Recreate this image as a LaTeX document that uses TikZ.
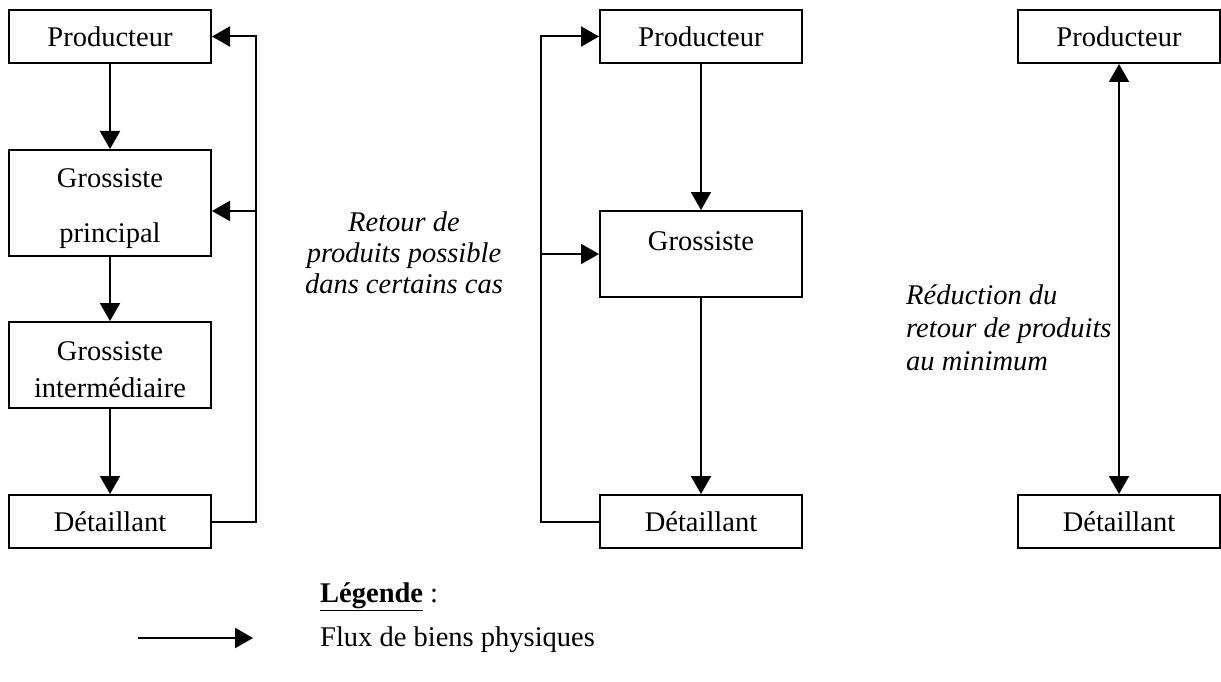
\documentclass[tikz,border=0pt]{standalone}
\usepackage{fontspec}
\setmainfont{Liberation Serif}
\usetikzlibrary{arrows.meta,positioning,calc}

\begin{document}
\begin{tikzpicture}[x=1pt, y=-1pt,
    every node/.style={font=\fontsize{28.5}{33}\selectfont},
    box/.style={rectangle, draw, line width=2pt, minimum width=202pt, minimum height=53pt, inner sep=0pt, align=center},
    arrow/.style={-{Triangle[length=18pt,width=20pt]}, line width=2pt},
    link/.style={line width=2pt}
]
    \useasboundingbox (0,0) rectangle (1221,682);

    % circuit long
    \node[box] (prod1) at (110,36.5) {Producteur};
    \node[box, minimum height=106pt] (gros1) at (110,203) {\rule{0pt}{31pt}Grossiste\\[22pt]principal};
    \node[box, minimum height=86pt] (inter1) at (110,365) {\rule{0pt}{29pt}Grossiste\\[4pt]intermédiaire};
    \node[box] (det1) at (110,521.5) {Détaillant};

    \draw[arrow] (prod1) -- (gros1);
    \draw[arrow] (gros1) -- (inter1);
    \draw[arrow] (inter1) -- (det1);

    \coordinate (ret1) at (255,211);
    \draw[arrow] (det1.east) -- ++(44,0) |- (prod1.east);
    \draw[arrow] (ret1) -- (ret1 -| gros1.east);

    % circuit court
    \node[box] (prod2) at (701,36.5) {Producteur};
    \node[box, minimum height=86pt] (gros2) at (701,254) {\rule{0pt}{39pt}Grossiste\\[4pt]\strut};
    \node[box] (det2) at (701,521.5) {Détaillant};

    \draw[arrow] (prod2) -- (gros2);
    \draw[arrow] (gros2) -- (det2);

    \coordinate (ret2) at (542,254);
    \draw[arrow] (det2.west) -- ++(-58,0) |- (prod2.west);
    \draw[arrow] (ret2) -- (gros2.west);

    \node[align=center, font=\fontsize{28.5}{33}\selectfont\itshape] (txt2) at (404,253)
        {Retour de\\[-2pt]produits possible\\[-2pt]dans certains cas};

    % circuit direct
    \node[box] (prod3) at (1119,36.5) {Producteur};
    \node[box] (det3) at (1119,521.5) {Détaillant};

    \draw[{Triangle[length=18pt,width=20pt]}-{Triangle[length=18pt,width=20pt]}, link] (prod3) -- (det3);

    \node[align=left, anchor=west, inner sep=0pt, font=\fontsize{28.5}{33}\selectfont\itshape] (txt3) at (906,328)
        {Réduction du\\retour de produits\\au minimum};

    % legende
    \node[anchor=west, inner sep=0pt] (leg) at (320,597) {\underline{\textbf{Légende}} :};
    \node[anchor=west, inner sep=0pt] (flux) at (320,640) {Flux de biens physiques};
    \coordinate (la) at (138,638);
    \coordinate (lb) at (253,638);
    \draw[arrow] (la) -- (lb);
\end{tikzpicture}
\end{document}
